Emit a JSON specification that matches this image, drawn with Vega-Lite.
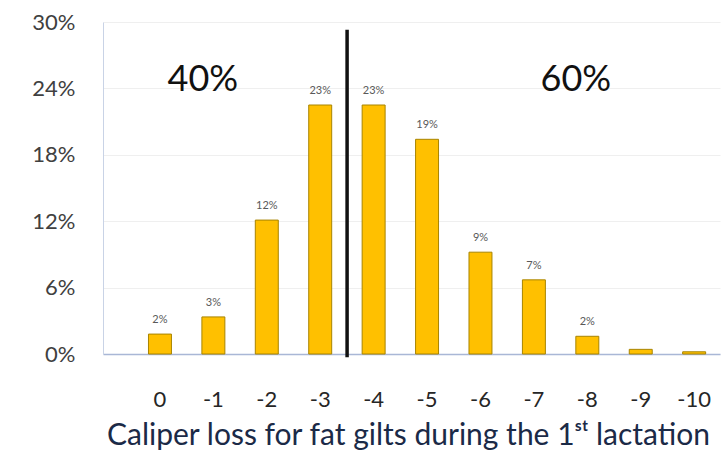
{
  "$schema": "https://vega.github.io/schema/vega-lite/v6.json",
  "autosize": "none",
  "width": 617,
  "height": 332,
  "padding": {"left": 103, "top": 22, "right": 6, "bottom": 102},
  "background": "white",
  "config": {
    "view": {"stroke": null},
    "font": "Lato"
  },
  "datasets": {
    "bars": [
      {"loss": "0", "pct": 1.8, "label": "2%"},
      {"loss": "-1", "pct": 3.35, "label": "3%"},
      {"loss": "-2", "pct": 12.1, "label": "12%"},
      {"loss": "-3", "pct": 22.5, "label": "23%"},
      {"loss": "-4", "pct": 22.5, "label": "23%"},
      {"loss": "-5", "pct": 19.4, "label": "19%"},
      {"loss": "-6", "pct": 9.2, "label": "9%"},
      {"loss": "-7", "pct": 6.7, "label": "7%"},
      {"loss": "-8", "pct": 1.6, "label": "2%"},
      {"loss": "-9", "pct": 0.42, "label": ""},
      {"loss": "-10", "pct": 0.2, "label": ""}
    ],
    "divider": [
      {"loss": "-3", "top": 29.3, "bottom": -0.3}
    ],
    "shares": [
      {"loss": "-1", "pct": 24.8, "text": "40%", "shift": 1},
      {"loss": "-8", "pct": 24.8, "text": "60%", "shift": 0}
    ]
  },
  "layer": [
    {
      "data": {"name": "bars"},
      "mark": {"type": "bar", "color": "#FFC000", "stroke": "#A88400", "strokeWidth": 1},
      "encoding": {
        "x": {
          "field": "loss", "type": "ordinal", "sort": null,
          "scale": {"domain": ["0","-1","-2","-3","-4","-5","-6","-7","-8","-9","-10"], "paddingInner": 0.57, "paddingOuter": 0.56, "align": 0.76},
          "axis": {
            "title": "Caliper loss for fat gilts during the 1ˢᵗ lactation",
            "titleFont": "Lato", "titleFontSize": 30, "titleFontWeight": "normal", "titleColor": "#1B2A47",
            "titlePadding": 10, "titleX": 305,
            "labelAngle": 0, "labelFontSize": 22, "labelColor": "#262626", "labelPadding": 35,
            "ticks": false, "domainColor": "#A9B7D6", "domainWidth": 1.5, "grid": false
          }
        },
        "y": {
          "field": "pct", "type": "quantitative",
          "scale": {"domain": [0, 30], "nice": false},
          "axis": {
            "title": null, "values": [0, 6, 12, 18, 24, 30],
            "labelExpr": "datum.value + '%'",
            "labelFontSize": 22, "labelColor": "#404040", "labelPadding": 28,
            "ticks": false, "domainColor": "#C9D3E6", "domainWidth": 1,
            "grid": true, "gridColor": "#EFEFEF", "gridWidth": 1
          }
        }
      }
    },
    {
      "data": {"name": "bars"},
      "mark": {"type": "text", "baseline": "bottom", "dy": -9, "fontSize": 11, "color": "#595959"},
      "encoding": {
        "x": {"field": "loss", "type": "ordinal", "sort": null},
        "y": {"field": "pct", "type": "quantitative"},
        "text": {"field": "label"}
      }
    },
    {
      "data": {"name": "divider"},
      "mark": {"type": "rule", "color": "#111111", "strokeWidth": 3.5},
      "encoding": {
        "x": {"field": "loss", "type": "ordinal", "sort": null, "bandPosition": 1.67},
        "y": {"field": "top", "type": "quantitative"},
        "y2": {"field": "bottom"}
      }
    },
    {
      "data": {"name": "shares"},
      "mark": {"type": "text", "fontSize": 36, "color": "#111111", "baseline": "middle"},
      "encoding": {
        "x": {"field": "loss", "type": "ordinal", "sort": null},
        "y": {"field": "pct", "type": "quantitative"},
        "text": {"field": "text"},
        "xOffset": {"field": "shift", "type": "quantitative", "scale": null}
      }
    }
  ]
}
